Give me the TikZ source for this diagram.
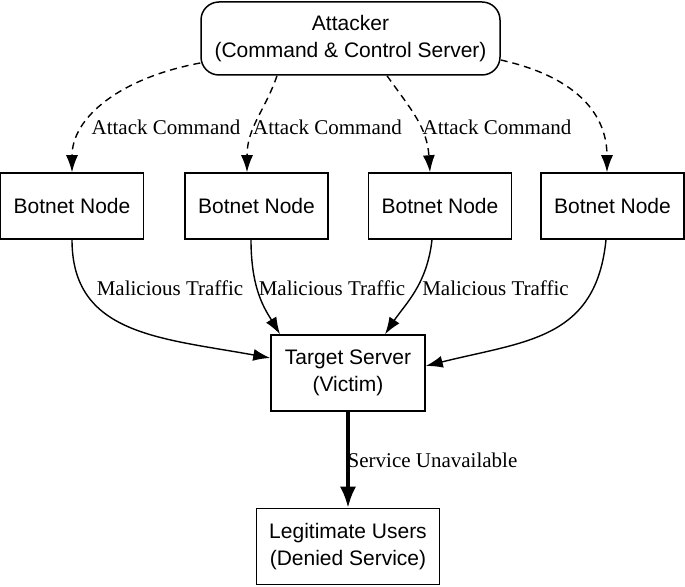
\documentclass[tikz,border=0pt]{standalone}
\usepackage{fontspec}
\setmainfont{Liberation Serif}
\setsansfont{Liberation Sans}
\usetikzlibrary{arrows.meta}
\usetikzlibrary{positioning}

\tikzset{
  box/.style={draw, line width=1.5pt, align=center, inner sep=0pt,
    font=\sffamily\fontsize{21}{27}\selectfont},
  bot/.style={box, minimum width=143pt, minimum height=66pt},
  lbl/.style={inner sep=0pt, font=\fontsize{21}{24}\selectfont},
  cmd/.style={line width=1.4pt, dash pattern=on 7pt off 5pt,
    -{Latex[length=17pt,width=12pt]}},
  hit/.style={line width=1.4pt, -{Latex[length=17pt,width=12pt]}},
}

\begin{document}
\begin{tikzpicture}[x=1pt,y=1pt]
        \useasboundingbox (0,0) rectangle (685,586);

        % attacker on top
        \node[box, rounded corners=18pt, minimum width=299pt, minimum height=73pt]
          (attacker) at (350.5,547.5) {Attacker\\(Command \& Control Server)};

        % 4 botnet nodes in a row
        \node[bot] (bot1) at (72,380) {Botnet Node};
        \node[bot] (bot2) at (256.5,380) {Botnet Node};
        \node[bot] (bot3) at (440,380) {Botnet Node};
        \node[bot] (bot4) at (612.5,380) {Botnet Node};

        % target and users
        \node[box, minimum width=154pt, minimum height=76pt] (target) at (348,213)
          {Target Server\\(Victim)};
        \node[box, minimum width=183pt, minimum height=76pt, below=96pt of target]
          (users) {Legitimate Users\\(Denied Service)};

        % commands from attacker to bots
        \draw[cmd] ([yshift=-24.5pt]attacker.west) .. controls +(-80,-15) and +(0,55) .. (bot1.north);
        \draw[cmd] ([xshift=-73.5pt]attacker.south) .. controls +(-12,-35) and +(0,45) .. ([xshift=-9.5pt]bot2.north);
        \draw[cmd] ([xshift=36.5pt]attacker.south) .. controls +(25,-35) and +(-3,45) .. ([xshift=-10pt]bot3.north);
        \draw[cmd] ([yshift=-21.5pt]attacker.east) .. controls +(80,-18) and +(0,55) .. ([xshift=-5.5pt]bot4.north);

        \node[lbl] (ac1) at (166,459) {Attack Command};
        \node[lbl] (ac2) at (327.5,459) {Attack Command};
        \node[lbl] (ac3) at (497,459) {Attack Command};

        % traffic from bots to target
        \draw[hit] (bot1.south) .. controls +(0,-95) and +(-110,20) .. ([yshift=15pt]target.west);
        \draw[hit] ([xshift=-5.5pt]bot2.south) .. controls +(0,-50) and +(-15,25) .. ([xshift=-68pt]target.north);
        \draw[hit] ([xshift=-8pt]bot3.south) .. controls +(-5,-45) and +(20,30) .. ([xshift=37pt]target.north);
        \draw[hit] ([xshift=-6.5pt]bot4.south) .. controls +(-10,-100) and +(100,25) .. ([yshift=7pt]target.east);

        \node[lbl] (mt1) at (170,298) {Malicious Traffic};
        \node[lbl] (mt2) at (332,298) {Malicious Traffic};
        \node[lbl] (mt3) at (495.5,298) {Malicious Traffic};

        % target down to users
        \draw[line width=3.2pt, -{Latex[length=21pt,width=16pt]}] (target) -- (users);
        \node[lbl] (su) at (432.5,126) {Service Unavailable};

\end{tikzpicture}
\end{document}
